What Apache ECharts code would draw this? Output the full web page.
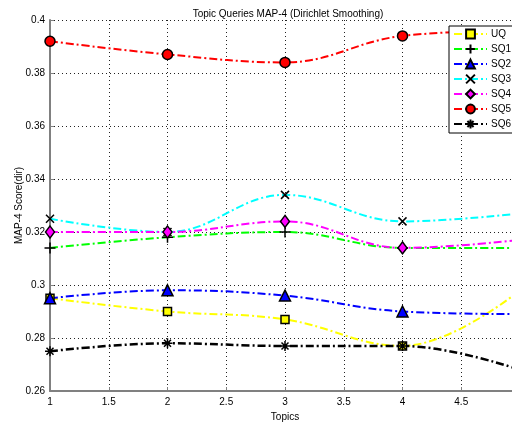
<!DOCTYPE html>
<html>
<head>
<meta charset="utf-8">
<script src="https://cdn.jsdelivr.net/npm/echarts@6/dist/echarts.min.js"></script>
<style>html,body{margin:0;padding:0;background:#fff}#c{width:512px;height:424px}</style>
</head>
<body>
<div id="c"></div>
<script>
const topics = [1, 2, 3, 4, 5];
const seriesNames = ['UQ', 'SQ1', 'SQ2', 'SQ3', 'SQ4', 'SQ5', 'SQ6'];
const UQ  = [0.295, 0.290, 0.287, 0.277, 0.298];
const SQ1 = [0.314, 0.318, 0.320, 0.314, 0.314];
const SQ2 = [0.295, 0.298, 0.296, 0.290, 0.289];
const SQ3 = [0.325, 0.320, 0.334, 0.324, 0.327];
const SQ4 = [0.320, 0.320, 0.324, 0.314, 0.317];
const SQ5 = [0.392, 0.387, 0.384, 0.394, 0.396];
const SQ6 = [0.275, 0.278, 0.277, 0.277, 0.268];
const yTicks = ['0.26', '0.28', '0.3', '0.32', '0.34', '0.36', '0.38', '0.4'];
const xTicks = ['1', '1.5', '2', '2.5', '3', '3.5', '4', '4.5'];

const values = [UQ, SQ1, SQ2, SQ3, SQ4, SQ5, SQ6];
const colors = ['#ffff00', '#00ff00', '#0000ff', '#00ffff', '#ff00ff', '#ff0000', '#000000'];
const PLUS = 'path://M0,5 L10,5 M5,0 L5,10';
const CROSS = 'path://M0,0 L10,10 M10,0 L0,10';
const STAR = 'path://M0,5 L10,5 M5,0 L5,10 M1.5,1.5 L8.5,8.5 M8.5,1.5 L1.5,8.5';
const symbols = ['rect', PLUS, 'triangle', CROSS, 'diamond', 'circle', STAR];
const sizes = [8, 11, 11, 8, [9, 12], 10, 10];
const FONT = 'Liberation Sans, Arial, sans-serif';

const series = seriesNames.map((n, i) => ({
  name: n,
  type: 'line',
  smooth: 0.4,
  data: topics.map((t, j) => [t, values[i][j]]),
  symbol: symbols[i],
  symbolSize: sizes[i],
  showAllSymbol: true,
  lineStyle: { color: colors[i], width: i === 6 ? 2.5 : 2, type: [8, 3, 2, 3] },
  itemStyle: { color: colors[i], borderColor: '#000', borderWidth: 1.5 },
  emphasis: { disabled: true },
  animation: false
}));

const chart = echarts.init(document.getElementById('c'), null, { renderer: 'canvas' });
chart.setOption({
  animation: false,
  backgroundColor: '#fff',
  textStyle: { fontFamily: FONT },
  title: {
    text: 'Topic Queries MAP-4 (Dirichlet Smoothing)',
    left: 283, top: 4, textAlign: 'center',
    textStyle: { fontSize: 10, fontWeight: 'normal', color: '#000', fontFamily: FONT }
  },
  grid: { left: 50, top: 20, bottom: 33, right: -8, containLabel: false, outerBoundsMode: 'none' },
  xAxis: {
    type: 'value', min: 1, max: 5, interval: 0.5,
    name: 'Topics', nameLocation: 'middle', nameGap: 21, nameMoveOverlap: false,
    nameTextStyle: { fontSize: 10, color: '#000', fontFamily: FONT },
    axisLine: { lineStyle: { color: '#808080', width: 2 } },
    axisTick: { inside: true, length: 4, lineStyle: { color: '#808080' } },
    axisLabel: {
      color: '#000', fontSize: 10, margin: 6, fontFamily: FONT,
      formatter: v => { const s = String(+v.toFixed(2)); return xTicks.indexOf(s) >= 0 ? s : ''; }
    },
    splitLine: { show: true, lineStyle: { color: '#222', width: 1, type: [1, 3] } }
  },
  yAxis: {
    type: 'value', min: 0.26, max: 0.4, interval: 0.02,
    name: 'MAP-4 Score(dir)', nameLocation: 'middle', nameGap: 26, nameMoveOverlap: false,
    nameTextStyle: { fontSize: 10, color: '#000', fontFamily: FONT },
    axisLine: { show: true, lineStyle: { color: '#808080', width: 2 } },
    axisTick: { show: true, inside: true, length: 4, lineStyle: { color: '#808080' } },
    axisLabel: {
      color: '#000', fontSize: 10, margin: 5, fontFamily: FONT,
      formatter: v => { const s = String(+v.toFixed(2)); return yTicks.indexOf(s) >= 0 ? s : ''; }
    },
    splitLine: { show: true, lineStyle: { color: '#222', width: 1, type: [1, 3] } }
  },
  legend: {
    data: seriesNames,
    orient: 'vertical',
    left: 449, top: 26,
    padding: [1, 40, 2, 4],
    itemWidth: 33, itemHeight: 11, itemGap: 1,
    backgroundColor: '#fff', borderColor: '#000', borderWidth: 1,
    textStyle: { fontSize: 10, lineHeight: 14, color: '#000', fontFamily: FONT, padding: [0, 0, 0, -1] },
    selectedMode: false
  },
  series: series
});
</script>
</body>
</html>
